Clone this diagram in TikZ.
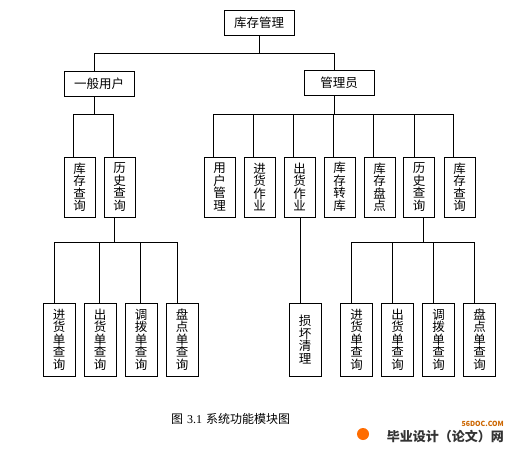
\documentclass[tikz,border=0pt]{standalone}
\usepackage{fontspec}
\setmainfont{Noto Sans CJK SC}
\newfontfamily\cjk{Noto Sans CJK SC}
\newfontfamily\numfont{Liberation Serif}
\begin{document}
\begin{tikzpicture}[x=1bp,y=-1bp,
  every node/.style={font=\cjk\fontsize{12.5bp}{12.5bp}\selectfont, inner sep=0pt},
  hbox/.style={draw, line width=0.9bp, minimum width=70bp, minimum height=25bp},
  vbox/.style={draw, line width=0.9bp, minimum width=31bp, minimum height=60bp, align=center},
  vboxl/.style={draw, line width=0.9bp, minimum width=32bp, minimum height=73bp, align=center},
  link/.style={draw, line width=0.9bp}
]
\useasboundingbox[fill=white] (0,0) rectangle (512,450);

% level 0/1
\node[hbox] (root) at (259,22.5) {库存管理};
\node[hbox] (user) at (99,83.5) {一般用户};
\node[hbox] (admin) at (339,82.5) {管理员};
\coordinate (b1) at (0,53);
\coordinate (b2) at (0,114);
\coordinate (b3) at (0,242);

% level 2 left
\node[vbox] (u1) at (79.5,187) {库\\存\\查\\询};
\node[vbox] (u2) at (119.5,187) {历\\史\\查\\询};
% level 2 right
\node[vbox] (a1) at (219.5,187) {用\\户\\管\\理};
\node[vbox] (a2) at (259.5,187) {进\\货\\作\\业};
\node[vbox] (a3) at (299.5,187) {出\\货\\作\\业};
\node[vbox] (a4) at (339.5,187) {库\\存\\转\\库};
\node[vbox] (a5) at (379.5,187) {库\\存\\盘\\点};
\node[vbox] (a6) at (419,187) {历\\史\\查\\询};
\node[vbox] (a7) at (459.5,187) {库\\存\\查\\询};

% level 3 left
\node[vboxl] (l1) at (59,339.5) {进\\货\\单\\查\\询};
\node[vboxl] (l2) at (100,339.5) {出\\货\\单\\查\\询};
\node[vboxl] (l3) at (141,339.5) {调\\拨\\单\\查\\询};
\node[vboxl] (l4) at (182,339.5) {盘\\点\\单\\查\\询};
% level 3 middle
\node[vboxl] (m1) at (305,339.5) {损\\坏\\清\\理};
% level 3 right
\node[vboxl] (r1) at (356.5,339.5) {进\\货\\单\\查\\询};
\node[vboxl] (r2) at (397.5,339.5) {出\\货\\单\\查\\询};
\node[vboxl] (r3) at (438.5,339.5) {调\\拨\\单\\查\\询};
\node[vboxl] (r4) at (479.5,339.5) {盘\\点\\单\\查\\询};

% connectors level 0-1
\draw[link] (root.south) -- (root.south |- b1);
\draw[link] ([xshift=-5bp]user.north) |- ([xshift=-5bp]admin.north |- b1) -- ([xshift=-5bp]admin.north);

% connectors user -> level 2
\draw[link] ([xshift=-5bp]user.south) -- ([xshift=-5bp]user.south |- b2);
\draw[link] ([xshift=10bp]u1.north west) |- ([xshift=10bp]u2.north west |- b2) -- ([xshift=10bp]u2.north west);

% connectors admin -> level 2
\draw[link] ([xshift=-5bp]admin.south) -- ([xshift=-5bp]admin.south |- b2);
\draw[link] ([xshift=10bp]a1.north west) |- ([xshift=10bp]a7.north west |- b2) -- ([xshift=10bp]a7.north west);
\foreach \n in {a2,a3,a4,a5}
  \draw[link] ([xshift=10bp]\n.north west) -- ([xshift=10bp]\n.north west |- b2);
\draw[link] ([xshift=11bp]a6.north west) -- ([xshift=11bp]a6.north west |- b2);

% left history -> level 3
\draw[link] ([xshift=11bp]u2.south west) -- ([xshift=11bp]u2.south west |- b3);
\draw[link] ([xshift=-5bp]l1.north) |- ([xshift=-5bp]l4.north |- b3) -- ([xshift=-5bp]l4.north);
\draw[link] ([xshift=-1bp]l2.north) -- ([xshift=-1bp]l2.north |- b3);
\draw[link] ([xshift=-1bp]l3.north) -- ([xshift=-1bp]l3.north |- b3);

% outgoing -> damage
\draw[link] ([xshift=-5bp]m1.north) -- ([xshift=-5bp]m1.north |- a3.south);

% right history -> level 3
\draw[link] ([xshift=4bp]a6.south) -- ([xshift=4bp]a6.south |- b3);
\draw[link] ([xshift=-5.5bp]r1.north) |- ([xshift=-5.5bp]r4.north |- b3) -- ([xshift=-5.5bp]r4.north);
\draw[link] ([xshift=-5.5bp]r2.north) -- ([xshift=-5.5bp]r2.north |- b3);
\draw[link] ([xshift=-5.5bp]r3.north) -- ([xshift=-5.5bp]r3.north |- b3);

% caption
\node[font=\cjk\fontsize{12bp}{12bp}\selectfont] (cap) at (230.5,419) {图\hspace{4bp}{\numfont 3.1}\hspace{4bp}系统功能模块图};

% site logo
\node[circle, fill=orange!85!red, minimum size=12bp] (ball) at (363,434) {};
\node[anchor=east, font=\cjk\bfseries\fontsize{7bp}{7bp}\selectfont, text=orange!80!black] (site) at (504,424) {56DOC.COM};
\node[anchor=east, font=\cjk\bfseries\fontsize{13bp}{13bp}\selectfont, text=black!80] (logo) at (504,437) {毕业设计（论文）网};
\end{tikzpicture}
\end{document}
